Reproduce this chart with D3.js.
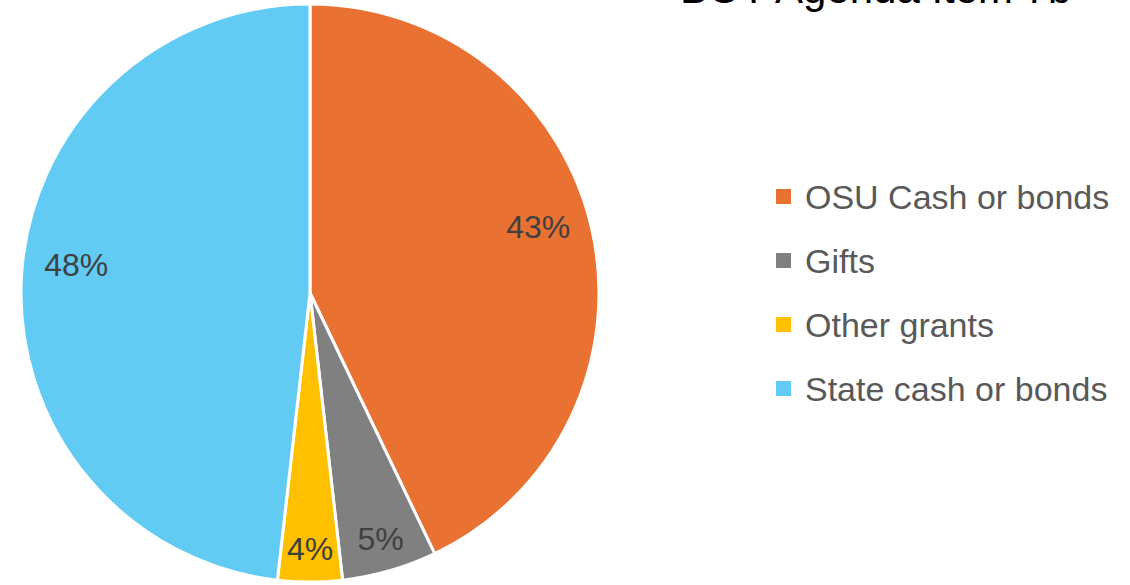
<!DOCTYPE html>
<html>
<head>
<meta charset="utf-8">
<script src="https://cdn.jsdelivr.net/npm/d3@7"></script>
<style>
  html, body { margin: 0; padding: 0; background: #fff; }
  svg { display: block; }
</style>
</head>
<body>
<div id="chart"></div>
<script>
const categories = ['OSU Cash or bonds', 'Gifts', 'Other grants', 'State cash or bonds'];
const shares = [42.9, 5.3, 3.6, 48.2];
const sliceColors = ['#E97132', '#808080', '#FFC000', '#61CBF4'];
const titleText = 'BOT Agenda Item 7b';

const width = 1130;
const height = 585;
const cx = 310;
const cy = 293;
const radius = 289;

const svg = d3.select('#chart')
  .append('svg')
  .attr('width', width)
  .attr('height', height);

const data = categories.map((c, i) => ({ name: c, value: shares[i], color: sliceColors[i] }));

const pie = d3.pie().sort(null).value(d => d.value);
const arc = d3.arc().innerRadius(0).outerRadius(radius);
const arcs = pie(data);

const pieG = svg.append('g').attr('transform', `translate(${cx},${cy})`);

pieG.selectAll('path')
  .data(arcs)
  .join('path')
  .attr('d', arc)
  .attr('fill', d => d.data.color)
  .attr('stroke', '#fff')
  .attr('stroke-width', 3)
  .attr('stroke-linejoin', 'round');

// big slices get labels further in and a little higher, thin slices near the rim
const labelPos = d => {
  const big = d.data.value > 10;
  const r = big ? radius * 0.81 : radius * 0.885;
  const [x, y] = d3.arc().innerRadius(r).outerRadius(r).centroid(d);
  return [x, big ? y - 15 : y];
};

pieG.selectAll('text.pct')
  .data(arcs)
  .join('text')
  .attr('class', 'pct')
  .attr('transform', d => `translate(${labelPos(d)})`)
  .attr('text-anchor', 'middle')
  .attr('dy', '0.36em')
  .attr('font-family', 'Liberation Sans, Arial, sans-serif')
  .attr('font-size', 32)
  .attr('fill', '#404040')
  .text(d => `${Math.round(d.data.value)}%`);

// title, mostly clipped off the top of the frame as in the source
svg.append('text')
  .attr('x', 680)
  .attr('y', 3)
  .attr('font-family', 'Liberation Sans, Arial, sans-serif')
  .attr('font-size', 42)
  .attr('fill', '#000')
  .text(titleText);

const legend = svg.append('g').attr('transform', 'translate(776,197)');

const items = legend.selectAll('g.item')
  .data(data)
  .join('g')
  .attr('class', 'item')
  .attr('transform', (d, i) => `translate(0,${i * 64})`);

items.append('rect')
  .attr('x', 0)
  .attr('y', -8)
  .attr('width', 15)
  .attr('height', 15)
  .attr('fill', d => d.color);

items.append('text')
  .attr('x', 29)
  .attr('y', 0)
  .attr('dy', '0.36em')
  .attr('font-family', 'Liberation Sans, Arial, sans-serif')
  .attr('font-size', 34)
  .attr('fill', '#595959')
  .text(d => d.name);
</script>
</body>
</html>
